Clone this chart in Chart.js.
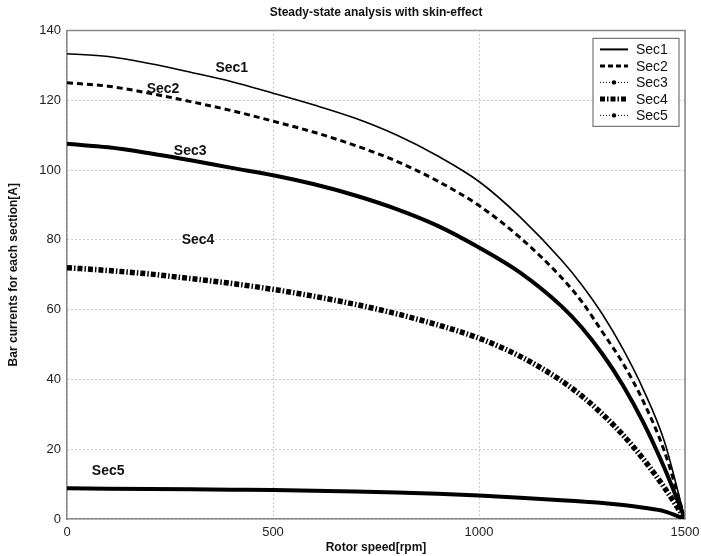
<!DOCTYPE html>
<html>
<head>
<meta charset="utf-8">
<script src="https://cdn.jsdelivr.net/npm/chart.js@4.4.1/dist/chart.umd.min.js"></script>
<style>
  html, body { margin: 0; padding: 0; background: #fff; }
</style>
</head>
<body>
<canvas id="myChart" width="701" height="556"></canvas>
<script>
// rotor speed [rpm]
const speed = [0, 100, 200, 300, 400, 500, 600, 700, 800, 900, 1000, 1100, 1200, 1250, 1300, 1350, 1400, 1450, 1500];

// bar currents [A]
const sec1 = [133.3, 132.5, 130.5, 128, 125.3, 122, 118.6, 114.8, 110, 104, 96.7, 86.5, 74.2, 67, 58.6, 48.6, 36.8, 22.2, 0];
const sec2 = [125, 124, 122, 119.6, 117, 114, 110.8, 107, 102.5, 96.8, 89.8, 80.6, 69.2, 62.2, 53.5, 44.5, 33.4, 19.4, 0];
const sec3 = [107.5, 106.5, 104.8, 102.8, 100.6, 98.5, 95.9, 92.7, 88.8, 84, 77.8, 70.6, 61, 54.8, 47.2, 38.2, 27.4, 14.6, 0];
const sec4 = [72, 71.2, 70.2, 68.9, 67.5, 65.8, 63.8, 61.5, 58.8, 55.6, 51.8, 46.6, 39.6, 35.2, 30, 24, 17, 9, 0];
const sec5 = [8.8, 8.7, 8.6, 8.5, 8.4, 8.3, 8.1, 7.9, 7.6, 7.2, 6.7, 6.1, 5.4, 5.0, 4.6, 4.0, 3.2, 2.2, 0];

const seriesNames = ["Sec1", "Sec2", "Sec3", "Sec4", "Sec5"];

// where the curve names sit, in data units
const labelSpeed = [400, 233, 299, 318, 100];
const labelCurrent = [129.2, 123.2, 105.4, 80, 13.8];

function toPoints(ys) {
  return speed.map((s, i) => ({ x: s, y: ys[i] }));
}

const lineStyles = [
  { width: 1.6, dash: [] },
  { width: 3, dash: [6, 4] },
  { width: 4, dash: [] },
  { width: 5.5, dash: [5, 2, 1.5, 2] },
  { width: 4, dash: [] },
];

// legend samples (the legend of the original uses different markers)
const legendStyles = [
  { width: 2, dash: [], dot: false },
  { width: 3, dash: [5, 3], dot: false },
  { width: 1, dash: [1, 2], dot: true },
  { width: 5, dash: [5, 2, 1.5, 2], dot: false },
  { width: 1, dash: [1, 2], dot: true },
];

const allSeries = [sec1, sec2, sec3, sec4, sec5];

const datasets = allSeries.map((ys, i) => ({
  label: seriesNames[i],
  data: toPoints(ys),
  borderColor: "#000",
  backgroundColor: "#000",
  borderWidth: lineStyles[i].width,
  borderDash: lineStyles[i].dash,
  pointRadius: 0,
  cubicInterpolationMode: "monotone",
  fill: false,
}));

const frameAndLabels = {
  id: "frameAndLabels",
  afterDatasetsDraw(chart) {
    const { ctx, chartArea, scales } = chart;
    ctx.save();
    // box around the plot
    ctx.strokeStyle = "#888";
    ctx.lineWidth = 1.5;
    ctx.beginPath();
    ctx.moveTo(chartArea.left, chartArea.top);
    ctx.lineTo(chartArea.right, chartArea.top);
    ctx.lineTo(chartArea.right, chartArea.bottom);
    ctx.stroke();

    // curve names
    ctx.fillStyle = "#111";
    ctx.font = "bold 14px 'Liberation Sans', Arial, sans-serif";
    ctx.textAlign = "center";
    ctx.textBaseline = "middle";
    seriesNames.forEach((name, i) => {
      ctx.fillText(name, scales.x.getPixelForValue(labelSpeed[i]), scales.y.getPixelForValue(labelCurrent[i]));
    });

    // legend box
    const bw = 86, bh = 88;
    const bx = chartArea.right - 92, by = chartArea.top + 8;
    ctx.fillStyle = "#fff";
    ctx.fillRect(bx, by, bw, bh);
    ctx.strokeStyle = "#777";
    ctx.lineWidth = 1.2;
    ctx.strokeRect(bx, by, bw, bh);
    ctx.font = "14px 'Liberation Sans', Arial, sans-serif";
    ctx.textAlign = "left";
    seriesNames.forEach((name, i) => {
      const y = by + 11 + i * 16.5;
      const st = legendStyles[i];
      ctx.strokeStyle = "#000";
      ctx.lineWidth = st.width;
      ctx.setLineDash(st.dash);
      ctx.beginPath();
      ctx.moveTo(bx + 7, y);
      ctx.lineTo(bx + 35, y);
      ctx.stroke();
      ctx.setLineDash([]);
      if (st.dot) {
        ctx.fillStyle = "#000";
        ctx.beginPath();
        ctx.arc(bx + 21, y, 2.2, 0, Math.PI * 2);
        ctx.fill();
      }
      ctx.fillStyle = "#111";
      ctx.fillText(name, bx + 43, y + 1);
    });
    ctx.restore();
  },
};

const config = {
  type: "line",
  data: { datasets: datasets },
  options: {
    responsive: false,
    animation: false,
    layout: { padding: { left: 0, right: 16, top: 0, bottom: 0 } },
    plugins: {
      legend: { display: false },
      tooltip: { enabled: false },
      title: {
        display: true,
        fullSize: false,
        text: "Steady-state analysis with skin-effect",
        color: "#111",
        font: { family: "'Liberation Sans', Arial, sans-serif", size: 12, weight: "bold" },
        padding: { top: 5, bottom: 11 },
      },
    },
    scales: {
      x: {
        type: "linear",
        min: 0,
        max: 1500,
        afterFit(scale) {
          scale.height = 37;
          scale.paddingLeft = 0;
          scale.paddingRight = 0;
        },
        ticks: {
          stepSize: 500,
          color: "#222",
          padding: 6,
          maxRotation: 0,
          callback: (v) => String(v),
          font: { family: "'Liberation Sans', Arial, sans-serif", size: 13 },
        },
        grid: { color: "#999", drawTicks: false, lineWidth: 1 },
        border: { display: true, color: "#888", width: 1.5, dash: [1, 3] },
        title: {
          display: true,
          text: "Rotor speed[rpm]",
          color: "#111",
          font: { family: "'Liberation Sans', Arial, sans-serif", size: 12, weight: "bold" },
          padding: { top: 0, bottom: 1 },
        },
      },
      y: {
        min: 0,
        max: 140,
        afterFit(scale) { scale.width = 67; },
        ticks: {
          stepSize: 20,
          color: "#222",
          padding: 6,
          font: { family: "'Liberation Sans', Arial, sans-serif", size: 13 },
        },
        grid: { color: "#999", drawTicks: false, lineWidth: 1 },
        border: { display: true, color: "#888", width: 1.5, dash: [1, 3] },
        title: {
          display: true,
          text: "Bar currents for each section[A]",
          color: "#111",
          font: { family: "'Liberation Sans', Arial, sans-serif", size: 12, weight: "bold" },
          padding: { top: 6, bottom: 0 },
        },
      },
    },
  },
  plugins: [frameAndLabels],
};

const myChart = new Chart(document.getElementById("myChart"), config);
</script>
</body>
</html>
